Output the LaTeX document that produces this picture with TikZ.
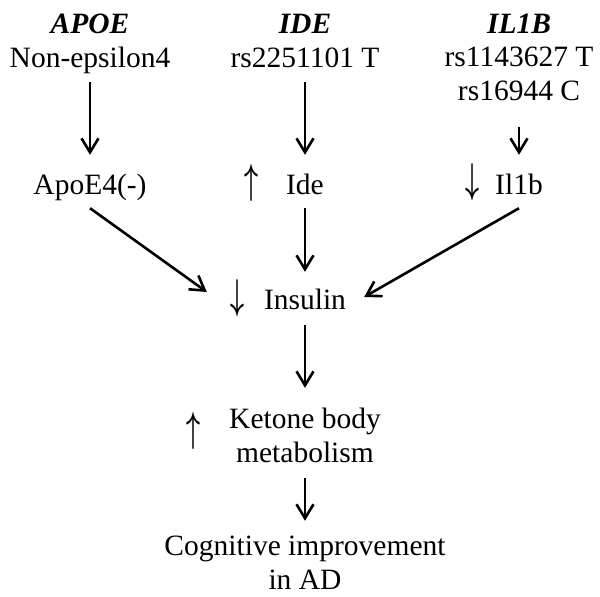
\documentclass[tikz,border=0pt]{standalone}
\usepackage{graphicx}
\usepackage{fontspec}
\setmainfont{Liberation Serif}
\usetikzlibrary{arrows.meta}

\newcommand{\upsym}{\resizebox*{14pt}{37pt}{\boldmath$\uparrow$}}
\newcommand{\downsym}{\resizebox*{14pt}{37pt}{\boldmath$\downarrow$}}

\begin{document}
\begin{tikzpicture}[x=1pt,y=-1pt,>={Straight Barb[length=14pt,width=17pt]},
                    every node/.style={font=\fontsize{29.5}{33.5}\selectfont,inner sep=0pt,anchor=base},
                    main node/.style={text height=20pt,text depth=7pt},
                    gene node/.style={main node,font=\fontsize{29.5}{33.5}\selectfont\bfseries\itshape},
                    updown/.style={anchor=center},
                    big/.style={->,line width=2.6pt}]
  \useasboundingbox (0,0) rectangle (600,597);
  % genes and alleles
  \node[gene node] (apoe) at (90,33) {APOE};
  \node[gene node] (ide) at (305,33) {IDE};
  \node[gene node] (il1b) at (519,33) {IL1B};
  \node[main node] (nonE) at (90,67) {Non-epsilon4};
  \node[main node] (rsIDE) at (305,67) {rs2251101 T};
  \node[align=center] (rsIL) at (519,100) {rs1143627 T\\rs16944 C};
  % proteins
  \node[main node] (apoe4) at (90,194) {ApoE4(-)};
  \node[main node] (idep) at (305,194) {Ide};
  \node[main node] (il1bp) at (519,194) {Il1b};
  \node[main node] (insulin) at (305,309) {Insulin};
  \node[align=center] (ketone) at (305,462) {Ketone body\\metabolism};
  \node[align=center] (cog) at (305,589) {Cognitive improvement\\in AD};
  % up / down
  \node[updown] (ideup) at (251,183.5) {\upsym};
  \node[updown] (il1bdown) at (472,182) {\downsym};
  \node[updown] (insdown) at (237,298.5) {\downsym};
  \node[updown] (ketup) at (193,431.5) {\upsym};
  \path[big]
    (nonE) edge [shorten <=8pt, shorten >=19pt] (apoe4)
    (rsIDE) edge [shorten <=8pt, shorten >=19pt] (idep)
    (rsIL) edge [shorten <=27pt, shorten >=19pt] (il1bp)
    (idep) edge [shorten <=7pt, shorten >=17pt] (insulin)
    ([shift={(0,7)}]apoe4.south) edge ([shift={(-57,-10.5)}]insulin.west)
    ([shift={(0,7)}]il1bp.south) edge ([shift={(18,-5.5)}]insulin.east)
    (insulin) edge [shorten <=9pt, shorten >=20pt] (ketone)
    (ketone) edge [shorten <=16pt, shorten >=15pt] (cog);
\end{tikzpicture}
\end{document}
